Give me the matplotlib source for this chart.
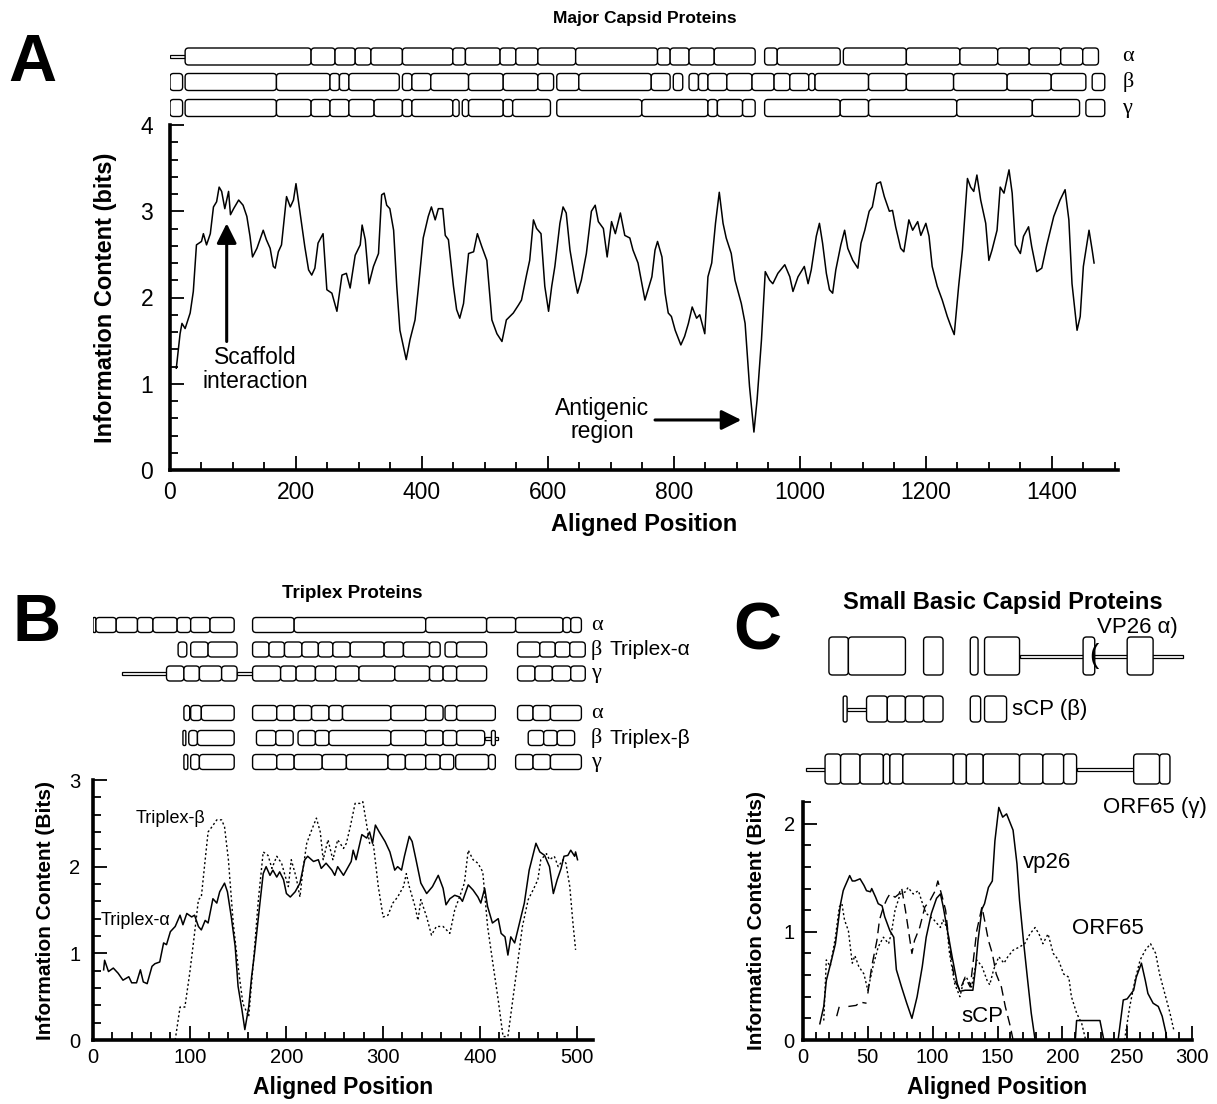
import numpy as np
import matplotlib
matplotlib.use("Agg")
import matplotlib.pyplot as plt
from matplotlib.patches import FancyBboxPatch, Rectangle
from matplotlib.ticker import MultipleLocator

plt.rcParams['font.family'] = ['Liberation Sans', 'DejaVu Sans']

nan = np.nan

# ---- panel A: major capsid protein profile (aligned position, bits)
A_PROFILE = [(10, 1.18), (16, 1.58), (19, 1.70), (24, 1.64), (32, 1.82), (37, 2.07), (42, 2.61), (50, 2.65),
             (53, 2.74), (58, 2.61), (64, 2.74), (69, 3.05), (74, 3.11), (78, 3.28), (82, 3.23), (87, 3.03),
             (93, 3.23), (96, 2.96), (101, 3.03), (109, 3.13), (116, 3.07), (122, 2.94), (127, 2.71), (131, 2.47),
             (138, 2.57), (148, 2.78), (153, 2.67), (159, 2.57), (164, 2.36), (167, 2.34), (172, 2.53), (177, 2.61),
             (185, 3.17), (191, 3.05), (196, 3.13), (200, 3.32), (206, 3.01), (214, 2.59), (220, 2.32), (225, 2.26),
             (230, 2.34), (235, 2.63), (243, 2.74), (249, 2.09), (257, 2.05), (265, 1.84), (273, 2.26), (280, 2.28),
             (286, 2.11), (294, 2.49), (302, 2.61), (305, 2.84), (310, 2.67), (316, 2.16), (323, 2.36), (331, 2.51),
             (336, 3.19), (340, 3.21), (344, 3.07), (349, 3.03), (355, 2.78), (360, 2.13), (365, 1.62), (375, 1.28),
             (381, 1.51), (389, 1.74), (394, 2.09), (402, 2.69), (410, 2.94), (415, 3.05), (421, 2.90), (426, 3.03),
             (433, 3.03), (437, 2.72), (442, 2.67), (450, 2.13), (455, 1.86), (460, 1.76), (466, 1.93), (474, 2.51),
             (482, 2.53), (488, 2.74), (495, 2.59), (503, 2.43), (511, 1.74), (519, 1.58), (527, 1.49), (534, 1.74),
             (545, 1.82), (553, 1.91), (558, 1.97), (566, 2.26), (571, 2.43), (577, 2.90), (582, 2.80), (589, 2.74),
             (595, 2.13), (601, 1.84), (606, 2.13), (611, 2.36), (619, 2.86), (624, 3.05), (629, 2.98), (635, 2.55),
             (643, 2.20), (647, 2.05), (653, 2.20), (661, 2.51), (669, 3.00), (675, 3.07), (680, 2.88), (688, 2.80),
             (694, 2.47), (701, 2.88), (707, 2.74), (715, 2.98), (722, 2.72), (730, 2.69), (735, 2.55), (743, 2.40),
             (754, 1.97), (765, 2.24), (770, 2.55), (774, 2.65), (781, 2.47), (786, 2.05), (791, 1.82), (796, 1.78),
             (802, 1.62), (811, 1.45), (817, 1.55), (823, 1.70), (829, 1.89), (836, 1.76), (841, 1.80), (849, 1.58),
             (854, 2.24), (860, 2.40), (866, 2.86), (872, 3.22), (878, 2.86), (883, 2.69), (891, 2.51), (897, 2.20),
             (907, 1.93), (913, 1.70), (920, 0.97), (927, 0.44), (932, 0.81), (939, 1.51), (945, 2.30), (952, 2.20),
             (957, 2.16), (965, 2.28), (976, 2.38), (984, 2.24), (989, 2.07), (997, 2.24), (1007, 2.36), (1013, 2.16),
             (1018, 2.32), (1026, 2.71), (1031, 2.86), (1036, 2.63), (1042, 2.28), (1047, 2.09), (1052, 2.05),
             (1057, 2.32), (1065, 2.61), (1071, 2.78), (1076, 2.57), (1084, 2.43), (1092, 2.34), (1097, 2.63),
             (1103, 2.78), (1110, 3.00), (1115, 3.05), (1122, 3.32), (1128, 3.34), (1134, 3.17), (1142, 3.00),
             (1147, 3.01), (1152, 2.82), (1160, 2.57), (1165, 2.53), (1173, 2.90), (1179, 2.78), (1187, 2.88),
             (1192, 2.72), (1200, 2.86), (1205, 2.71), (1210, 2.36), (1218, 2.13), (1226, 1.97), (1234, 1.78),
             (1239, 1.68), (1245, 1.57), (1252, 2.13), (1258, 2.55), (1266, 3.38), (1271, 3.28), (1276, 3.23),
             (1281, 3.42), (1287, 3.13), (1295, 2.86), (1300, 2.43), (1305, 2.55), (1313, 2.78), (1318, 3.28),
             (1324, 3.21), (1332, 3.48), (1337, 3.21), (1342, 2.61), (1350, 2.51), (1355, 2.71), (1363, 2.82),
             (1368, 2.59), (1376, 2.30), (1384, 2.34), (1392, 2.61), (1403, 2.94), (1413, 3.13), (1421, 3.25),
             (1427, 2.90), (1432, 2.16), (1440, 1.62), (1445, 1.78), (1450, 2.36), (1459, 2.78), (1464, 2.55),
             (1467, 2.40)]

# alignment blocks (start, end) for alpha / beta / gamma rows, thin = linker lines
A_ALPHA = [(24, 224), (224, 262), (262, 294), (294, 319), (319, 369), (369, 449), (449, 469), (469, 524),
           (524, 549), (549, 584), (584, 644), (644, 774), (774, 794), (794, 824), (824, 864), (864, 929),
           (944, 964), (964, 1064), (1069, 1169), (1169, 1254), (1254, 1314), (1314, 1364), (1364, 1414),
           (1414, 1449), (1449, 1474)]
A_BETA = [(0, 20), (24, 169), (169, 254), (254, 269), (269, 284), (284, 364), (369, 384), (384, 414), (414, 474),
          (474, 529), (529, 584), (584, 609), (614, 649), (649, 764), (764, 794), (799, 814), (824, 839), (839, 854),
          (854, 884), (884, 924), (924, 959), (959, 984), (984, 1014), (1014, 1024), (1024, 1109), (1109, 1169),
          (1169, 1244), (1244, 1329), (1329, 1399), (1399, 1454), (1464, 1484)]
A_GAMMA = [(0, 20), (24, 169), (169, 224), (224, 254), (254, 284), (284, 324), (324, 369), (369, 384), (384, 449),
           (449, 459), (464, 474), (474, 529), (529, 544), (544, 604), (614, 749), (749, 854), (854, 869),
           (869, 909), (909, 929), (944, 1064), (1064, 1109), (1109, 1249), (1249, 1369), (1369, 1444), (1454, 1484)]
A_THIN = [[(0, 24)], [], []]
GREEK = ['α', 'β', 'γ']

# ---- panel B: triplex proteins
B_TRIPLEX_A = [(11, 0.81), (12, 0.92), (16, 0.79), (21, 0.83), (26, 0.77), (31, 0.69), (37, 0.73), (40, 0.66),
               (45, 0.66), (49, 0.81), (52, 0.67), (56, 0.65), (61, 0.85), (64, 0.88), (69, 0.90), (73, 1.12),
               (76, 1.10), (80, 1.25), (85, 1.31), (90, 1.44), (93, 1.33), (97, 1.46), (102, 1.42), (105, 1.44),
               (109, 1.31), (112, 1.27), (116, 1.38), (119, 1.35), (124, 1.63), (128, 1.58), (131, 1.71), (136, 1.81),
               (139, 1.71), (143, 1.42), (147, 1.08), (150, 0.62), (154, 0.35), (157, 0.12), (161, 0.38), (164, 0.73),
               (167, 1.00), (173, 1.62), (176, 1.92), (179, 2.00), (183, 1.90), (186, 1.96), (190, 1.88), (193, 1.94),
               (197, 1.85), (200, 1.69), (204, 1.65), (209, 1.71), (214, 1.81), (219, 2.08), (222, 2.12), (228, 2.06),
               (233, 2.08), (236, 1.98), (241, 2.04), (247, 1.96), (250, 1.90), (253, 2.00), (259, 1.90), (262, 1.96),
               (267, 2.06), (269, 2.19), (272, 2.08), (278, 2.37), (283, 2.33), (286, 2.40), (289, 2.27), (292, 2.48),
               (296, 2.40), (302, 2.29), (307, 2.17), (312, 1.96), (315, 2.00), (319, 1.96), (322, 2.12), (327, 2.35),
               (330, 2.29), (334, 2.08), (339, 1.81), (345, 1.69), (348, 1.73), (351, 1.77), (357, 1.90), (362, 1.75),
               (365, 1.56), (369, 1.63), (374, 1.67), (379, 1.65), (382, 1.60), (388, 1.79), (393, 1.73), (398, 1.65),
               (401, 1.58), (405, 1.75), (408, 1.54), (413, 1.35), (419, 1.40), (422, 1.23), (426, 1.19), (429, 0.98),
               (432, 1.19), (436, 1.12), (441, 1.35), (446, 1.58), (451, 1.96), (458, 2.27), (462, 2.17), (467, 2.13),
               (472, 2.00), (476, 1.69), (480, 1.85), (484, 1.98), (487, 2.12), (491, 2.13), (494, 2.19), (498, 2.12),
               (499, 2.17), (501, 2.08)]
B_TRIPLEX_B = [(85, 0.0), (90, 0.38), (95, 0.38), (100, 0.77), (105, 1.23), (109, 1.62), (112, 1.65), (116, 2.08),
               (119, 2.40), (123, 2.46), (128, 2.54), (133, 2.54), (136, 2.46), (140, 2.08), (145, 1.35), (150, 0.85),
               (155, 0.42), (161, 0.27), (166, 0.92), (171, 1.62), (176, 2.17), (181, 2.13), (185, 1.98), (190, 2.12),
               (195, 2.04), (198, 1.92), (202, 1.77), (205, 2.08), (210, 1.88), (214, 1.65), (217, 1.96), (221, 2.27),
               (226, 2.42), (231, 2.56), (235, 2.40), (238, 2.08), (243, 2.31), (248, 2.08), (253, 2.31), (259, 2.21),
               (262, 2.27), (266, 2.46), (271, 2.73), (276, 2.73), (279, 2.75), (283, 2.48), (286, 2.27), (290, 2.25),
               (295, 1.77), (300, 1.42), (305, 1.44), (310, 1.58), (315, 1.65), (321, 1.77), (324, 1.92), (327, 1.77),
               (333, 1.54), (336, 1.38), (339, 1.62), (345, 1.42), (350, 1.21), (355, 1.31), (362, 1.31), (369, 1.23),
               (374, 1.50), (379, 1.65), (384, 1.81), (388, 2.19), (393, 2.08), (398, 2.04), (403, 1.94), (405, 1.69),
               (408, 1.31), (413, 0.92), (419, 0.46), (424, 0.04), (429, 0.04), (434, 0.46), (439, 0.88), (444, 1.31),
               (450, 1.62), (455, 1.73), (460, 1.85), (463, 2.08), (469, 2.15), (472, 2.08), (477, 2.12), (481, 2.00),
               (486, 2.08), (489, 2.04), (493, 1.77), (496, 1.38), (499, 1.04)]

B_ROWS = [
    [(0, 3), (3, 24), (24, 46), (46, 62), (62, 87), (87, 101), (101, 121), (121, 146), (165, 208), (208, 344),
     (344, 407), (407, 437), (437, 486), (486, 494), (494, 505)],
    [(88, 97), (101, 119), (119, 149), (165, 182), (182, 198), (198, 216), (216, 233), (233, 248), (248, 266),
     (266, 301), (301, 321), (321, 348), (348, 359), (364, 376), (376, 407), (439, 462), (462, 478), (478, 493),
     (493, 509)],
    [(76, 94), (94, 110), (110, 133), (133, 149), (165, 194), (194, 210), (210, 230), (230, 251), (251, 275),
     (275, 312), (312, 348), (348, 362), (362, 376), (376, 407), (439, 457), (457, 475), (475, 494), (494, 509)],
    [(94, 100), (101, 112), (112, 146), (165, 190), (190, 208), (208, 226), (226, 244), (244, 258), (258, 308),
     (308, 344), (344, 362), (364, 376), (376, 416), (439, 455), (455, 473), (473, 505)],
    [(93, 96), (99, 108), (108, 146), (169, 189), (189, 207), (212, 230), (230, 244), (244, 308), (308, 344),
     (344, 362), (362, 376), (376, 405), (412, 416), (450, 466), (466, 480), (480, 498)],
    [(94, 98), (101, 110), (110, 146), (165, 190), (190, 208), (208, 237), (237, 262), (262, 305), (305, 323),
     (323, 344), (344, 359), (359, 373), (375, 409), (409, 416), (437, 455), (455, 473), (473, 505)],
]
B_THIN = [[], [], [(30, 76), (149, 165)], [], [(405, 419)], []]

# ---- panel C: small basic capsid proteins
C_VP26 = [(13, 0.15), (16, 0.31), (18, 0.55), (22, 0.74), (25, 0.89), (29, 1.26), (31, 1.38), (32, 1.41),
          (36, 1.52), (38, 1.47), (40, 1.47), (44, 1.49), (47, 1.43), (49, 1.38), (52, 1.37), (53, 1.40),
          (56, 1.32), (58, 1.26), (61, 1.24), (63, 1.14), (67, 1.01), (70, 0.95), (72, 0.65), (76, 0.49),
          (80, 0.34), (84, 0.20), (88, 0.40), (92, 0.68), (95, 0.95), (99, 1.17), (103, 1.31), (106, 1.35),
          (108, 1.24), (111, 1.04), (115, 0.77), (119, 0.52), (121, 0.45), (125, 0.46), (131, 0.46), (133, 0.66),
          (135, 0.92), (138, 1.21), (140, 1.26), (143, 1.41), (146, 1.47), (148, 1.84), (151, 2.15), (154, 2.06),
          (157, 2.09), (160, 2.00), (162, 1.94), (165, 1.63), (167, 1.29), (170, 0.92), (173, 0.58), (176, 0.25),
          (179, 0.0), (nan, nan), (210, 0.0), (211, 0.18), (229, 0.18), (232, 0.0), (nan, nan),
          (243, 0.0), (247, 0.37), (250, 0.38), (255, 0.46), (257, 0.58), (261, 0.71), (264, 0.55), (266, 0.43),
          (270, 0.34), (274, 0.31), (277, 0.22), (280, 0.06), (280.5, 0.0)]
C_ORF65 = [(16, 0.18), (18, 0.74), (21, 0.68), (25, 0.95), (28, 1.23), (30, 1.26), (32, 1.11), (35, 1.01),
           (38, 0.71), (40, 0.78), (43, 0.68), (47, 0.61), (50, 0.46), (54, 0.68), (58, 0.86), (62, 0.95),
           (66, 0.89), (68, 0.98), (71, 1.20), (75, 1.35), (79, 1.37), (81, 1.41), (85, 1.35), (89, 1.38),
           (93, 1.23), (95, 1.17), (98, 1.14), (101, 1.11), (106, 1.04), (108, 1.11), (111, 1.04), (113, 0.80),
           (117, 0.52), (121, 0.40), (124, 0.55), (126, 0.58), (130, 0.49), (134, 0.74), (138, 0.68), (142, 0.55),
           (144, 0.51), (147, 0.65), (151, 0.77), (155, 0.71), (158, 0.77), (162, 0.83), (167, 0.86), (171, 0.89),
           (175, 0.98), (179, 1.04), (182, 0.98), (185, 0.89), (189, 0.98), (193, 0.80), (197, 0.74), (201, 0.61),
           (205, 0.58), (207, 0.40), (211, 0.25), (215, 0.15), (218, 0.0), (nan, nan),
           (248, 0.0), (252, 0.31), (256, 0.55), (260, 0.74), (264, 0.83), (268, 0.89), (272, 0.80), (275, 0.61),
           (279, 0.43), (283, 0.25), (286, 0.09)]
C_SCP = [(26, 0.22), (28, 0.31), (nan, nan), (35, 0.31), (41, 0.32), (44, 0.35), (49, 0.34), (nan, nan),
         (50, 0.43), (53, 0.68), (57, 0.92), (59, 1.11), (62, 1.23), (65, 1.31), (67, 1.35), (71, 1.32),
         (74, 1.35), (76, 1.41), (79, 1.20), (81, 1.04), (84, 0.80), (86, 0.92), (90, 1.04), (94, 1.23),
         (98, 1.29), (102, 1.38), (104, 1.47), (107, 1.34), (110, 1.20), (113, 0.86), (117, 0.55), (121, 0.46),
         (125, 0.58), (129, 0.49), (134, 1.01), (138, 1.23), (140, 1.11), (143, 0.92), (146, 0.80), (149, 0.61),
         (153, 0.49), (156, 0.31), (160, 0.12), (162, 0.0)]

C_ROWS = [
    [(20, 35), (35, 79), (93, 108), (129, 135), (140, 167), (216, 225), (250, 270)],
    [(31, 34), (49, 65), (65, 79), (79, 93), (93, 108), (129, 137), (140, 157)],
    [(17, 29), (29, 44), (44, 62), (62, 67), (67, 77), (77, 116), (116, 126), (126, 139), (139, 167),
     (167, 185), (185, 201), (201, 211), (255, 275), (275, 283)],
]
C_THIN = [[(167, 293)], [(34, 49)], [(2, 17), (211, 255)]]

W, H = 1217, 1104
fig = plt.figure(figsize=(W / 100, H / 100), dpi=100)


def px_axes(left, top, right, bottom):
    return fig.add_axes([left / W, 1 - bottom / H, (right - left) / W, (bottom - top) / H])


def style(ax, xmaj, xmin, ymaj, ymin, fs):
    for s in ['top', 'right']:
        ax.spines[s].set_visible(False)
    for s in ['left', 'bottom']:
        ax.spines[s].set_linewidth(2.6)
    ax.xaxis.set_major_locator(MultipleLocator(xmaj))
    ax.xaxis.set_minor_locator(MultipleLocator(xmin))
    ax.yaxis.set_major_locator(MultipleLocator(ymaj))
    ax.yaxis.set_minor_locator(MultipleLocator(ymin))
    ax.tick_params(which='both', direction='in', width=1.3, labelsize=fs)
    ax.tick_params(which='major', length=10, pad=6)
    ax.tick_params(which='minor', length=6)


def draw_rows(ax, rows, thins, centers, heights, ppu):
    for segs, thin, yc, h in zip(rows, thins, centers, heights):
        for s, e in thin:
            ax.add_patch(Rectangle((s, yc - 1.5), e - s, 3, fc='white', ec='black', lw=0.9))
        for s, e in segs:
            r_px = min(3.5, (e - s) * ppu / 2 - 0.2, h / 2 - 0.5)
            ax.add_patch(FancyBboxPatch((s, yc - h / 2), e - s, h,
                                        boxstyle=f"round,pad=0,rounding_size={r_px / ppu}",
                                        mutation_aspect=ppu, fc='white', ec='black', lw=1.0))


def xy(pairs):
    arr = np.array(pairs, dtype=float)
    return arr[:, 0], arr[:, 1]


# ================= A
axA = px_axes(170, 125, 1118, 470)
x, y = xy(A_PROFILE)
axA.plot(x, y, color='black', lw=1.1)
axA.set_xlim(0, 1505)
axA.set_ylim(0, 4)
style(axA, 200, 50, 1, 0.2, 16.5)
axA.tick_params(axis='x', pad=8)
axA.tick_params(axis='y', pad=12)
axA.set_xlabel('Aligned Position', fontsize=17, fontweight='bold')
axA.set_ylabel('Information Content (bits)', fontsize=17, fontweight='bold')
axA.xaxis.set_label_coords(0.5, -0.124)
axA.yaxis.set_label_coords(-0.056, 0.5)
axA.annotate('', xy=(90, 2.86), xytext=(90, 1.49),
             arrowprops=dict(arrowstyle='-|>', color='black', lw=2.2, mutation_scale=30, shrinkA=0, shrinkB=0))
axA.text(135, 1.16, 'Scaffold\ninteraction', ha='center', va='center', fontsize=16.5, linespacing=1.05)
axA.annotate('', xy=(907, 0.58), xytext=(770, 0.58),
             arrowprops=dict(arrowstyle='-|>', color='black', lw=2.2, mutation_scale=30, shrinkA=0, shrinkB=0))
axA.text(686, 0.58, 'Antigenic\nregion', ha='center', va='center', fontsize=16.5, linespacing=1.05)

rowA = px_axes(170, 40, 1118, 122)
rowA.set_xlim(0, 1505)
rowA.set_ylim(122, 40)
rowA.axis('off')
draw_rows(rowA, [A_ALPHA, A_BETA, A_GAMMA], A_THIN, [56.5, 82, 108], [17, 17, 17], 948 / 1505)
for g, yc in zip(GREEK, [56.5, 82, 108]):
    rowA.text(1512, yc, g, ha='left', va='center', fontsize=16, family='Liberation Serif')

fig.text(645 / W, 1 - 18 / H, 'Major Capsid Proteins', ha='center', va='center', fontsize=12.5, fontweight='bold')
fig.text(32 / W, 1 - 64 / H, 'A', ha='center', va='center', fontsize=48, fontweight='bold')

# ================= B
axB = px_axes(93, 780, 593, 1040)
x, y = xy(B_TRIPLEX_A)
axB.plot(x, y, color='black', lw=1.1)
x, y = xy(B_TRIPLEX_B)
axB.plot(x, y, color='black', lw=1.0, linestyle=(0, (1.5, 1.8)))
axB.set_xlim(0, 517)
axB.set_ylim(0, 3)
style(axB, 100, 20, 1, 0.2, 14.5)
axB.tick_params(axis='y', pad=9)
axB.set_xlabel('Aligned Position', fontsize=16.5, fontweight='bold')
axB.set_ylabel('Information Content (Bits)', fontsize=15, fontweight='bold')
axB.xaxis.set_label_coords(0.5, -0.14)
axB.yaxis.set_label_coords(-0.075, 0.5)
axB.text(80, 2.56, 'Triplex-β', ha='center', va='center', fontsize=13)
axB.text(44, 1.38, 'Triplex-α', ha='center', va='center', fontsize=13)

rowB = px_axes(93, 610, 593, 776)
rowB.set_xlim(0, 517)
rowB.set_ylim(776, 610)
rowB.axis('off')
b_centers = [625, 649.5, 673.5, 713, 738, 762]
draw_rows(rowB, B_ROWS, B_THIN, b_centers, [15] * 6, 500 / 517)
for g, yc in zip(GREEK + GREEK, b_centers):
    rowB.text(515, yc, g, ha='left', va='center', fontsize=16, family='Liberation Serif')
rowB.text(534, b_centers[1], 'Triplex-α', ha='left', va='center', fontsize=15)
rowB.text(534, b_centers[4], 'Triplex-β', ha='left', va='center', fontsize=15)

fig.text(352 / W, 1 - 593 / H, 'Triplex Proteins', ha='center', va='center', fontsize=13.5, fontweight='bold')
fig.text(37 / W, 1 - 624 / H, 'B', ha='center', va='center', fontsize=48, fontweight='bold')

# ================= C
axC = px_axes(803, 802, 1192, 1040)
x, y = xy(C_VP26)
axC.plot(x, y, color='black', lw=1.1)
x, y = xy(C_ORF65)
axC.plot(x, y, color='black', lw=1.0, linestyle=(0, (1.5, 1.8)))
x, y = xy(C_SCP)
axC.plot(x, y, color='black', lw=1.0, linestyle=(0, (7, 4)))
axC.set_xlim(0, 300)
axC.set_ylim(0, 2.2)
style(axC, 50, 10, 1, 0.2, 14.5)
axC.set_xlabel('Aligned Position', fontsize=16.5, fontweight='bold')
axC.set_ylabel('Information Content (Bits)', fontsize=15, fontweight='bold')
axC.xaxis.set_label_coords(0.5, -0.153)
axC.yaxis.set_label_coords(-0.094, 0.5)
axC.text(188, 1.64, 'vp26', ha='center', va='center', fontsize=16)
axC.text(235, 1.03, 'ORF65', ha='center', va='center', fontsize=16)
axC.text(138, 0.22, 'sCP', ha='center', va='center', fontsize=16)

rowC = px_axes(803, 615, 1192, 820)
rowC.set_xlim(0, 300)
rowC.set_ylim(820, 615)
rowC.axis('off')
c_centers = [656, 709, 769]
draw_rows(rowC, C_ROWS, C_THIN, c_centers, [38, 26, 30], 389 / 300)
rowC.text(258, 627, 'VP26 α)', ha='center', va='center', fontsize=16)
rowC.text(224, 656, '(', ha='center', va='center', fontsize=20)
rowC.text(161, 709, 'sCP (β)', ha='left', va='center', fontsize=16)
rowC.text(231, 808, 'ORF65 (γ)', ha='left', va='center', fontsize=16)

fig.text(1003 / W, 1 - 603 / H, 'Small Basic Capsid Proteins', ha='center', va='center',
         fontsize=17, fontweight='bold')
fig.text(757 / W, 1 - 632 / H, 'C', ha='center', va='center', fontsize=48, fontweight='bold')

fig.savefig('out.png', dpi=100, facecolor='white')
